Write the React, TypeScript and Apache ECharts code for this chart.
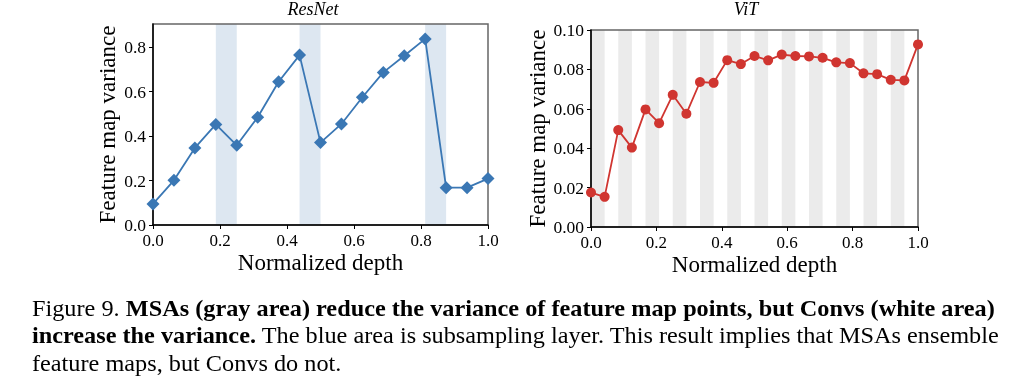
import React, { useEffect, useRef } from "react";
import * as echarts from "echarts";

const resnetDepth = [0, 0.0625, 0.125, 0.1875, 0.25, 0.3125, 0.375, 0.4375, 0.5, 0.5625, 0.625, 0.6875, 0.75, 0.8125, 0.875, 0.9375, 1.0];
const resnetVariance = [0.095, 0.201, 0.347, 0.453, 0.359, 0.485, 0.645, 0.765, 0.371, 0.455, 0.575, 0.687, 0.762, 0.838, 0.168, 0.168, 0.209];
const resnetSubsampleBands = [[0.1875, 0.25], [0.4375, 0.5], [0.8125, 0.875]];

const vitDepth = [0, 0.0417, 0.0833, 0.125, 0.1667, 0.2083, 0.25, 0.2917, 0.3333, 0.375, 0.4167, 0.4583, 0.5, 0.5417, 0.5833, 0.625, 0.6667, 0.7083, 0.75, 0.7917, 0.8333, 0.875, 0.9167, 0.9583, 1.0];
const vitVariance = [0.0175, 0.0153, 0.0492, 0.0403, 0.0597, 0.0527, 0.0671, 0.0575, 0.0736, 0.0732, 0.0847, 0.0827, 0.0868, 0.0846, 0.0875, 0.0868, 0.0866, 0.0859, 0.0836, 0.0832, 0.078, 0.0776, 0.0747, 0.0744, 0.0927];
const vitMsaBands = [[0, 0.0417], [0.0833, 0.125], [0.1667, 0.2083], [0.25, 0.2917], [0.3333, 0.375], [0.4167, 0.4583], [0.5, 0.5417], [0.5833, 0.625], [0.6667, 0.7083], [0.75, 0.7917], [0.8333, 0.875], [0.9167, 0.9583]];

const xTicks = [0, 0.2, 0.4, 0.6, 0.8, 1.0];
const resnetYTicks = [0, 0.2, 0.4, 0.6, 0.8];
const vitYTicks = [0, 0.02, 0.04, 0.06, 0.08, 0.1];

const titles = ["ResNet", "ViT"];
const xAxisName = "Normalized depth";
const yAxisName = "Feature map variance";

const FONT = "'Liberation Serif', 'Times New Roman', serif";

export default function App() {
  const ref = useRef<HTMLDivElement>(null);
  useEffect(() => {
    if (!ref.current) return;
    const chart = echarts.init(ref.current, undefined, { renderer: "svg" });
    const axisCommonX = (gridIndex: number) => ({
      type: "value",
      gridIndex,
      min: 0,
      max: 1,
      interval: 0.2,
      z: 2,
      name: xAxisName,
      nameLocation: "middle",
      nameGap: 26,
      nameMoveOverlap: false,
      nameTextStyle: { fontFamily: FONT, fontSize: 23, color: "#000", verticalAlign: "top" },
      axisLine: { show: true, lineStyle: { color: "#000", width: 1.5 } },
      axisTick: { show: true, inside: false, length: 4, lineStyle: { color: "#000", width: 1 }, customValues: xTicks },
      axisLabel: {
        customValues: xTicks,
        formatter: (v: number) => v.toFixed(1),
        fontFamily: FONT,
        fontSize: 17,
        color: "#000",
        margin: 7,
      },
      splitLine: { show: false },
    });
    const yAxisCommon = (gridIndex: number, max: number, interval: number, ticks: number[], digits: number, nameGap: number) => ({
      type: "value",
      gridIndex,
      min: 0,
      max,
      interval,
      z: 2,
      name: yAxisName,
      nameLocation: "middle",
      nameGap,
      nameTextStyle: { fontFamily: FONT, fontSize: 23, color: "#000" },
      axisLine: { show: true, lineStyle: { color: "#000", width: 1.5 } },
      axisTick: { show: true, inside: false, length: 4, lineStyle: { color: "#000", width: 1 }, customValues: ticks },
      axisLabel: { customValues: ticks, formatter: (v: number) => v.toFixed(digits), fontFamily: FONT, fontSize: 17.5, color: "#000", margin: 7 },
      splitLine: { show: false },
    });
    const option: any = {
      animation: false,
      grid: [
        { left: 153, right: 525, top: 24, bottom: 158, show: true, z: 2, borderColor: "#666", borderWidth: 1.5, backgroundColor: "transparent", containLabel: false },
        { left: 591, right: 95, top: 30, bottom: 156, show: true, z: 2, borderColor: "#666", borderWidth: 1.5, backgroundColor: "transparent", containLabel: false },
      ],
      xAxis: [axisCommonX(0), axisCommonX(1)],
      yAxis: [
        yAxisCommon(0, 0.905, 0.2, resnetYTicks, 1, 34),
        yAxisCommon(1, 0.1, 0.02, vitYTicks, 2, 42),
      ],
      series: [
        {
          type: "line",
          xAxisIndex: 0,
          yAxisIndex: 0,
          data: resnetDepth.map((x, i) => [x, resnetVariance[i]]),
          symbol: "diamond",
          symbolSize: 13,
          showAllSymbol: true,
          lineStyle: { color: "#3a77b4", width: 1.8 },
          itemStyle: { color: "#3a77b4" },
          markArea: {
            silent: true,
            z: 1,
            itemStyle: { color: "#dde7f1" },
            data: resnetSubsampleBands.map(([a, b]) => [{ xAxis: a }, { xAxis: b }]),
          },
          z: 3,
        },
        {
          type: "line",
          xAxisIndex: 1,
          yAxisIndex: 1,
          data: vitDepth.map((x, i) => [x, vitVariance[i]]),
          symbol: "circle",
          symbolSize: 10,
          showAllSymbol: true,
          lineStyle: { color: "#d03530", width: 1.8 },
          itemStyle: { color: "#d03530" },
          markArea: {
            silent: true,
            z: 1,
            itemStyle: { color: "#ebebeb" },
            data: vitMsaBands.map(([a, b]) => [{ xAxis: a }, { xAxis: b }]),
          },
          z: 3,
        },
      ],
      graphic: [
        {
          type: "text",
          x: 313,
          y: 0,
          style: { text: titles[0], fontFamily: FONT, fontStyle: "italic", fontSize: 18, fill: "#000", textAlign: "center", textVerticalAlign: "top" },
        },
        {
          type: "text",
          x: 746,
          y: 0,
          style: { text: titles[1], fontFamily: FONT, fontStyle: "italic", fontSize: 18, fill: "#000", textAlign: "center", textVerticalAlign: "top" },
        },
        {
          type: "text",
          x: 32,
          y: 294,
          scaleX: 1.012,
          style: {
            text:
              "{n|Figure 9. }{b|MSAs (gray area) reduce the variance of feature map points, but Convs (white area)}\n" +
              "{b|increase the variance.}{n| The blue area is subsampling layer. This result implies that MSAs ensemble}\n" +
              "{n|feature maps, but Convs do not.}",
            fontFamily: FONT,
            fontSize: 24,
            fill: "#000",
            lineHeight: 27.3,
            rich: {
              n: { fontFamily: FONT, fontSize: 24, lineHeight: 27.3, fill: "#000" },
              b: { fontFamily: FONT, fontSize: 24, fontWeight: "bold", lineHeight: 27.3, fill: "#000" },
            },
          },
        },
      ],
    };
    chart.setOption(option);
    return () => chart.dispose();
  }, []);
  return <div ref={ref} style={{ position: "fixed", left: 0, top: 0, width: 1013, height: 383 }} />;
}
